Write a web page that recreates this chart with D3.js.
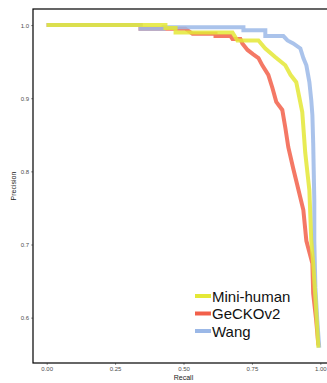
<!DOCTYPE html>
<html>
<head>
<meta charset="utf-8">
<script src="https://cdn.jsdelivr.net/npm/d3@7"></script>
<style>
  body { margin: 0; background: #fff; }
  svg text { font-family: "Liberation Sans", Arial, sans-serif; }
</style>
</head>
<body>
<div id="chart"></div>
<script>
// values: [recall, precision]
const seriesNames = ["GeCKOv2", "Wang", "Mini-human"];
const legendOrder = ["Mini-human", "GeCKOv2", "Wang"];
const seriesColors = {"Mini-human": "#e4e836", "GeCKOv2": "#f2604a", "Wang": "#9bb8e7"};

const geckoValues = [
    [0, 1], [0.343, 1], [0.343, 0.995], [0.507, 0.995], [0.533, 0.988], [0.617, 0.988],
    [0.617, 0.985], [0.672, 0.985], [0.679, 0.981], [0.708, 0.981], [0.715, 0.975],
    [0.734, 0.966], [0.755, 0.960], [0.774, 0.955], [0.788, 0.945], [0.810, 0.932],
    [0.825, 0.914], [0.839, 0.895], [0.861, 0.884], [0.872, 0.860], [0.883, 0.833],
    [0.901, 0.804], [0.916, 0.781], [0.938, 0.747], [0.949, 0.705], [0.971, 0.674],
    [0.974, 0.633], [0.985, 0.596], [0.993, 0.562]
];
const wangValues = [
    [0, 1], [0.343, 1], [0.343, 0.995], [0.427, 0.995], [0.427, 0.997], [0.719, 0.997],
    [0.719, 0.993], [0.799, 0.993], [0.799, 0.985], [0.865, 0.985], [0.880, 0.979],
    [0.901, 0.975], [0.927, 0.968], [0.938, 0.955], [0.949, 0.945], [0.960, 0.922],
    [0.967, 0.897], [0.971, 0.877], [0.974, 0.838], [0.978, 0.760], [0.978, 0.705],
    [0.982, 0.641], [0.989, 0.596], [0.996, 0.559]
];
const miniHumanValues = [
    [0, 1], [0.434, 1], [0.434, 0.996], [0.471, 0.996], [0.471, 0.990], [0.679, 0.990],
    [0.697, 0.979], [0.774, 0.979], [0.799, 0.968], [0.836, 0.956], [0.872, 0.945],
    [0.891, 0.932], [0.912, 0.922], [0.934, 0.881], [0.945, 0.825], [0.960, 0.774],
    [0.967, 0.705], [0.974, 0.674], [0.982, 0.627], [0.993, 0.559]
];
const xTicks = [0, 0.25, 0.5, 0.75, 1];
const yTicks = [0.6, 0.7, 0.8, 0.9, 1.0];

const seriesData = {"GeCKOv2": geckoValues, "Wang": wangValues, "Mini-human": miniHumanValues};

const W = 327, H = 383;
const margin = {top: 9, right: -7, bottom: 20, left: 33};
const width = W - margin.left - margin.right,
    height = H - margin.top - margin.bottom;

const svg = d3.select("#chart").append("svg")
    .attr("width", W)
    .attr("height", H);
const g = svg.append("g")
    .attr("transform", `translate(${margin.left},${margin.top})`);

const x = d3.scaleLinear().domain([-0.05, 1.05]).range([0, width]);
const y = d3.scaleLinear().domain([0.538, 1.022]).range([height, 0]);

// X axis
const xAxis = g.append("g")
    .attr("transform", `translate(0,${height})`)
    .call(d3.axisBottom(x).tickValues(xTicks).tickFormat(d3.format(".2f")).tickSize(2).tickPadding(2));
// Y axis
const yAxis = g.append("g")
    .call(d3.axisLeft(y).tickValues(yTicks).tickFormat(d3.format(".1f")).tickSize(2).tickPadding(2));
[xAxis, yAxis].forEach(a => {
    a.select(".domain").remove();
    a.selectAll("line").attr("stroke", "#333").attr("stroke-width", 0.5);
    a.selectAll("text").attr("fill", "#4d4d4d").style("font-size", "6px");
});

// lines
const line = d3.line().x(d => x(d[0])).y(d => y(d[1]));
seriesNames.forEach(name => {
    g.append("path")
        .datum(seriesData[name])
        .attr("fill", "none")
        .attr("stroke", seriesColors[name])
        .attr("stroke-width", 4)
        .attr("stroke-opacity", 0.85)
        .attr("stroke-linejoin", "miter")
        .attr("d", line);
});

// panel border
g.append("rect")
    .attr("width", width).attr("height", height)
    .attr("fill", "none").attr("stroke", "#000").attr("stroke-width", 1.2);

// axis titles
svg.append("text")
    .attr("x", margin.left + x(0.5)).attr("y", 380)
    .attr("text-anchor", "middle").style("font-size", "7px").attr("fill", "#222")
    .text("Recall");
svg.append("text")
    .attr("transform", `translate(16,${margin.top + height / 2}) rotate(-90)`)
    .attr("text-anchor", "middle").style("font-size", "7px").attr("fill", "#222")
    .text("Precision");

// legend
const legend = g.append("g").attr("transform", `translate(${195 - margin.left},${296 - margin.top})`);
legendOrder.forEach((name, i) => {
    legend.append("line")
        .attr("x1", 0).attr("x2", 16)
        .attr("y1", i * 17.5).attr("y2", i * 17.5)
        .attr("stroke", seriesColors[name]).attr("stroke-width", 4);
    legend.append("text")
        .attr("x", 17).attr("y", i * 17.5 + 5.5)
        .style("font-size", "15px").attr("fill", "#111")
        .text(name);
});
</script>
</body>
</html>
